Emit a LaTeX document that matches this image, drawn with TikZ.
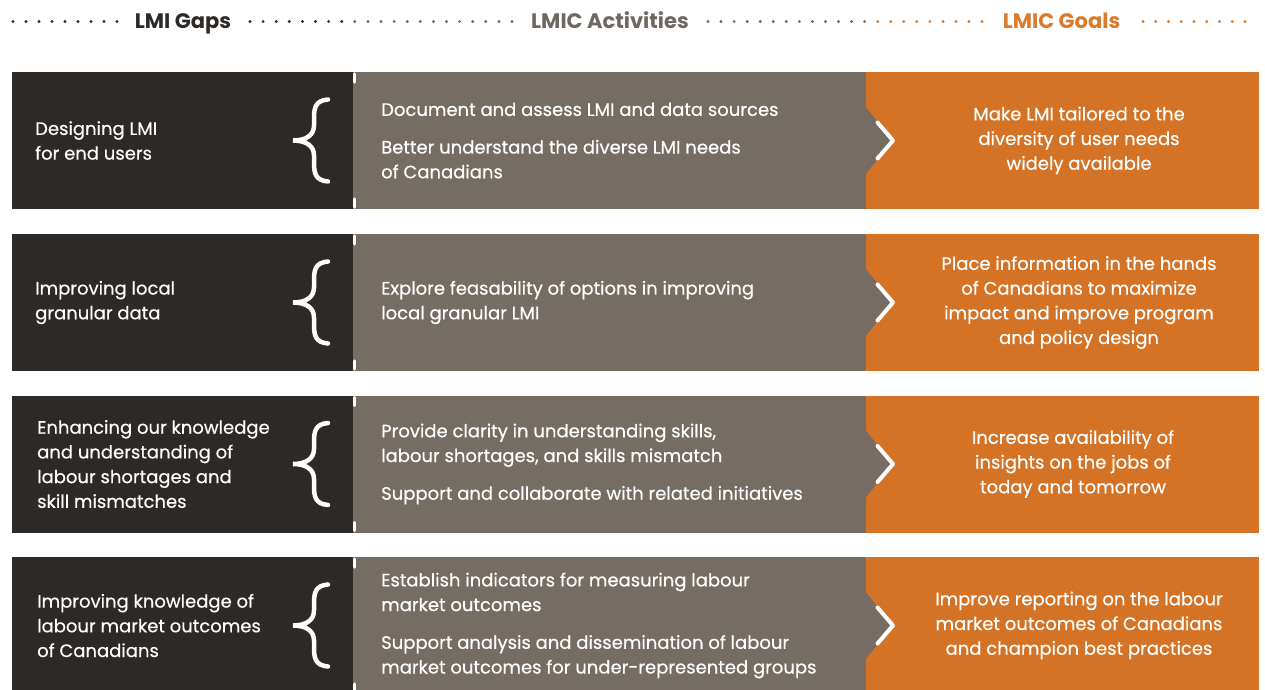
\documentclass[tikz,border=0pt]{standalone}
\usepackage{fontspec}
\setmainfont{Poppins}
\newfontfamily\bodyfont{Poppins}[FakeBold=0.4]
\definecolor{dk}{HTML}{2D2926}
\definecolor{gy}{HTML}{756C63}
\definecolor{orn}{HTML}{D47325}
\definecolor{gyt}{HTML}{6F6861}
\definecolor{ort}{HTML}{DA7B2C}
\begin{document}
\begin{tikzpicture}[x=1pt,y=-1pt,
  txt/.style={font=\bodyfont\fontsize{18}{24.7}\selectfont, text=white, inner sep=0pt},
  gaptxt/.style={txt, align=left, anchor=west},
  acttxt/.style={txt, align=left, anchor=west},
  goaltxt/.style={txt, align=center, anchor=center},
  hdr/.style={font=\bfseries\fontsize{21}{24}\selectfont, inner sep=0pt, anchor=base},
  chev/.style={white, line width=4pt, line cap=round, line join=round},
  brace/.style={white, line width=4.5pt, line cap=round},
  tick/.style={white, line width=3.5pt, line cap=round}]
\useasboundingbox (0,0) rectangle (1265,690);
% header
\node[hdr, text=dk] (h1) at (183,29) {LMI Gaps};
\node[hdr, text=gyt] (h2) at (610,29) {LMIC Activities};
\node[hdr, text=ort] (h3) at (1061.5,29) {LMIC Goals};
\foreach \s/\n/\d in {13/8/13, 250/20/13.1, 708/21/13.05, 1143/8/12.75} {
  \foreach \k in {0,...,\n} {
    \pgfmathsetmacro\x{\s+\d*\k}
    \ifdim\x pt<353pt \def\c{dk}\else\ifdim\x pt<866pt \def\c{gyt}\else\def\c{ort}\fi\fi
    \fill[\c] (\x,21.5) circle[radius=1.6pt];
  }
}
% rows
\foreach \t in {72,234,395.5,557} {
  \fill[dk] (12,\t) rectangle (353,\t+137);
  \fill[gy] (353,\t) rectangle (866,\t+137);
  \fill[orn] (866,\t) rectangle (1259,\t+137);
  \fill[gy] (866,\t+35.5) -- (893,\t+68.5) -- (866,\t+101.5) -- cycle;
  \draw[chev] (877.5,\t+50.5) -- (893,\t+68.5) -- (877.5,\t+86.5);
  \draw[brace, shift={(0,\t+68.5)}] (328,-41) .. controls (315,-40) and (314,-32) .. (314,-22) -- (314,-15) .. controls (314,-6) and (307,0) .. (293,0) .. controls (307,0) and (314,6) .. (314,15) -- (314,22) .. controls (314,32) and (315,40) .. (328,41);
  \draw[tick] (354.5,\t+2) -- (354.5,\t+10);
  \draw[tick] (354.5,\t+127) -- (354.5,\t+135);
}
% row 1
\node[gaptxt] (g1) at (35,140.5) {Designing LMI\\for end users};
\node[acttxt] (a1) at (381,140.5) {Document and assess LMI and data sources\\[13pt]Better understand the diverse LMI needs\\of Canadians};
\node[goaltxt] (o1) at (1079,140.5) {Make LMI tailored to the\\diversity of user needs\\widely available};
% row 2
\node[gaptxt] (g2) at (35,302.5) {Improving local\\granular data};
\node[acttxt] (a2) at (381,302.5) {Explore feasability of options in improving\\local granular LMI};
\node[goaltxt] (o2) at (1079,302.5) {Place information in the hands\\of Canadians to maximize\\impact and improve program\\and policy design};
% row 3
\node[gaptxt] (g3) at (37,464) {Enhancing our knowledge\\and understanding of\\labour shortages and\\skill mismatches};
\node[acttxt] (a3) at (381,464) {Provide clarity in understanding skills,\\labour shortages, and skills mismatch\\[13pt]Support and collaborate with related initiatives};
\node[goaltxt] (o3) at (1073,464) {Increase availability of\\insights on the jobs of\\today and tomorrow};
% row 4
\node[gaptxt] (g4) at (37,625.5) {Improving knowledge of\\labour market outcomes\\of Canadians};
\node[acttxt] (a4) at (381,625.5) {Establish indicators for measuring labour\\market outcomes\\[13pt]Support analysis and dissemination of labour\\market outcomes for under-represented groups};
\node[goaltxt] (o4) at (1079,625.5) {Improve reporting on the labour\\market outcomes of Canadians\\and champion best practices};
\end{tikzpicture}
\end{document}
